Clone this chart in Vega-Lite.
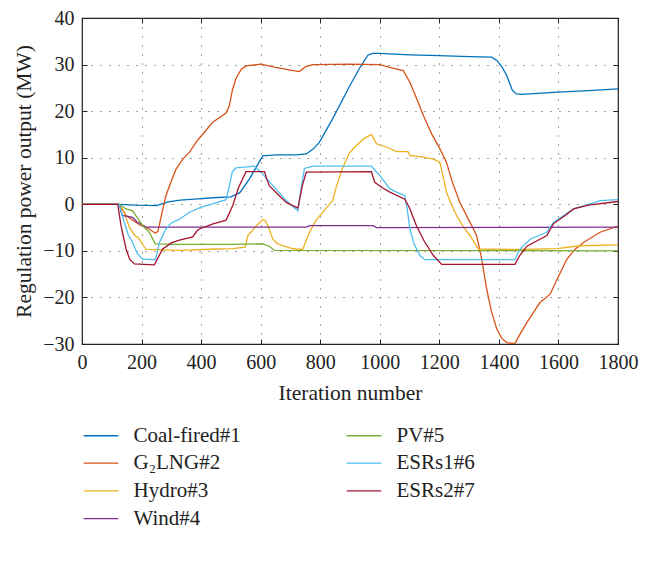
{
  "$schema": "https://vega.github.io/schema/vega-lite/v6.json",
  "width": 536,
  "height": 326,
  "autosize": "none",
  "padding": {"left": 82, "top": 18, "right": 31, "bottom": 240},
  "background": "white",
  "config": {
    "view": {"stroke": "#222", "strokeWidth": 1.2},
    "font": "Liberation Serif",
    "axis": {
      "labelFont": "Liberation Serif",
      "titleFont": "Liberation Serif",
      "labelFontSize": 20,
      "titleFontSize": 21.5,
      "titleFontWeight": "normal",
      "labelColor": "#222",
      "titleColor": "#222",
      "labelOverlap": false,
      "labelFlush": false,
      "domain": false,
      "tickColor": "#222",
      "tickSize": -5,
      "grid": true,
      "gridColor": "#333",
      "gridDash": [1, 8],
      "gridWidth": 1,
      "gridOpacity": 0.9
    },
    "legend": {
      "labelFont": "Liberation Serif",
      "labelFontSize": 21,
      "labelColor": "#222"
    }
  },
  "data": {"values": [
    {"s":"Coal-fired#1","x":0,"y":0},{"s":"Coal-fired#1","x":125,"y":0},{"s":"Coal-fired#1","x":180,"y":-0.2},{"s":"Coal-fired#1","x":250,"y":-0.3},{"s":"Coal-fired#1","x":290,"y":0.5},{"s":"Coal-fired#1","x":330,"y":0.9},{"s":"Coal-fired#1","x":400,"y":1.2},{"s":"Coal-fired#1","x":440,"y":1.4},{"s":"Coal-fired#1","x":500,"y":1.6},{"s":"Coal-fired#1","x":530,"y":2.5},{"s":"Coal-fired#1","x":562,"y":5.4},{"s":"Coal-fired#1","x":590,"y":8.5},{"s":"Coal-fired#1","x":607,"y":10.4},{"s":"Coal-fired#1","x":650,"y":10.6},{"s":"Coal-fired#1","x":720,"y":10.6},{"s":"Coal-fired#1","x":753,"y":10.8},{"s":"Coal-fired#1","x":775,"y":11.8},{"s":"Coal-fired#1","x":797,"y":13.3},{"s":"Coal-fired#1","x":842,"y":18.4},{"s":"Coal-fired#1","x":898,"y":25.3},{"s":"Coal-fired#1","x":930,"y":29},{"s":"Coal-fired#1","x":960,"y":32},{"s":"Coal-fired#1","x":975,"y":32.4},{"s":"Coal-fired#1","x":1000,"y":32.4},{"s":"Coal-fired#1","x":1100,"y":32.1},{"s":"Coal-fired#1","x":1200,"y":31.9},{"s":"Coal-fired#1","x":1300,"y":31.7},{"s":"Coal-fired#1","x":1376,"y":31.6},{"s":"Coal-fired#1","x":1393,"y":30.9},{"s":"Coal-fired#1","x":1410,"y":29.5},{"s":"Coal-fired#1","x":1426,"y":27.7},{"s":"Coal-fired#1","x":1445,"y":24.5},{"s":"Coal-fired#1","x":1458,"y":23.7},{"s":"Coal-fired#1","x":1475,"y":23.6},{"s":"Coal-fired#1","x":1600,"y":24.1},{"s":"Coal-fired#1","x":1700,"y":24.4},{"s":"Coal-fired#1","x":1800,"y":24.8},

    {"s":"G₂LNG#2","x":0,"y":0},{"s":"G₂LNG#2","x":125,"y":0},{"s":"G₂LNG#2","x":148,"y":-2.4},{"s":"G₂LNG#2","x":193,"y":-4.4},{"s":"G₂LNG#2","x":226,"y":-5.3},{"s":"G₂LNG#2","x":246,"y":-6.2},{"s":"G₂LNG#2","x":255,"y":-5.8},{"s":"G₂LNG#2","x":268,"y":-2},{"s":"G₂LNG#2","x":282,"y":1.9},{"s":"G₂LNG#2","x":300,"y":5},{"s":"G₂LNG#2","x":316,"y":7.6},{"s":"G₂LNG#2","x":340,"y":9.8},{"s":"G₂LNG#2","x":361,"y":11.2},{"s":"G₂LNG#2","x":385,"y":13.5},{"s":"G₂LNG#2","x":406,"y":15.1},{"s":"G₂LNG#2","x":439,"y":17.6},{"s":"G₂LNG#2","x":484,"y":19.6},{"s":"G₂LNG#2","x":495,"y":21.2},{"s":"G₂LNG#2","x":505,"y":24.5},{"s":"G₂LNG#2","x":517,"y":27},{"s":"G₂LNG#2","x":535,"y":29},{"s":"G₂LNG#2","x":551,"y":29.7},{"s":"G₂LNG#2","x":601,"y":30.1},{"s":"G₂LNG#2","x":650,"y":29.4},{"s":"G₂LNG#2","x":700,"y":28.8},{"s":"G₂LNG#2","x":730,"y":28.5},{"s":"G₂LNG#2","x":750,"y":29.5},{"s":"G₂LNG#2","x":775,"y":30},{"s":"G₂LNG#2","x":898,"y":30.1},{"s":"G₂LNG#2","x":1000,"y":30},{"s":"G₂LNG#2","x":1040,"y":29.3},{"s":"G₂LNG#2","x":1079,"y":28.7},{"s":"G₂LNG#2","x":1101,"y":26.2},{"s":"G₂LNG#2","x":1125,"y":22.5},{"s":"G₂LNG#2","x":1146,"y":19.1},{"s":"G₂LNG#2","x":1175,"y":15},{"s":"G₂LNG#2","x":1202,"y":11.9},{"s":"G₂LNG#2","x":1224,"y":9},{"s":"G₂LNG#2","x":1245,"y":4.5},{"s":"G₂LNG#2","x":1269,"y":0.4},{"s":"G₂LNG#2","x":1300,"y":-3.5},{"s":"G₂LNG#2","x":1325,"y":-6.7},{"s":"G₂LNG#2","x":1340,"y":-11},{"s":"G₂LNG#2","x":1359,"y":-18.2},{"s":"G₂LNG#2","x":1375,"y":-23},{"s":"G₂LNG#2","x":1393,"y":-26.8},{"s":"G₂LNG#2","x":1410,"y":-28.8},{"s":"G₂LNG#2","x":1426,"y":-29.7},{"s":"G₂LNG#2","x":1454,"y":-29.9},{"s":"G₂LNG#2","x":1470,"y":-28},{"s":"G₂LNG#2","x":1494,"y":-25.4},{"s":"G₂LNG#2","x":1515,"y":-23.3},{"s":"G₂LNG#2","x":1538,"y":-21.1},{"s":"G₂LNG#2","x":1572,"y":-19.3},{"s":"G₂LNG#2","x":1600,"y":-15.5},{"s":"G₂LNG#2","x":1628,"y":-11.8},{"s":"G₂LNG#2","x":1655,"y":-9.7},{"s":"G₂LNG#2","x":1684,"y":-8.2},{"s":"G₂LNG#2","x":1740,"y":-6},{"s":"G₂LNG#2","x":1800,"y":-4.7},

    {"s":"Hydro#3","x":0,"y":0},{"s":"Hydro#3","x":125,"y":0},{"s":"Hydro#3","x":140,"y":-1.5},{"s":"Hydro#3","x":159,"y":-4.9},{"s":"Hydro#3","x":175,"y":-6.5},{"s":"Hydro#3","x":193,"y":-7.5},{"s":"Hydro#3","x":205,"y":-8.8},{"s":"Hydro#3","x":215,"y":-9.7},{"s":"Hydro#3","x":327,"y":-9.9},{"s":"Hydro#3","x":450,"y":-9.6},{"s":"Hydro#3","x":506,"y":-9.5},{"s":"Hydro#3","x":548,"y":-9.2},{"s":"Hydro#3","x":557,"y":-6.7},{"s":"Hydro#3","x":570,"y":-5.8},{"s":"Hydro#3","x":585,"y":-4.6},{"s":"Hydro#3","x":607,"y":-3.3},{"s":"Hydro#3","x":615,"y":-3.5},{"s":"Hydro#3","x":624,"y":-4.6},{"s":"Hydro#3","x":641,"y":-7.5},{"s":"Hydro#3","x":655,"y":-8.4},{"s":"Hydro#3","x":674,"y":-8.9},{"s":"Hydro#3","x":700,"y":-9.4},{"s":"Hydro#3","x":719,"y":-9.6},{"s":"Hydro#3","x":741,"y":-9.7},{"s":"Hydro#3","x":764,"y":-6},{"s":"Hydro#3","x":785,"y":-3.5},{"s":"Hydro#3","x":809,"y":-1.7},{"s":"Hydro#3","x":842,"y":0.8},{"s":"Hydro#3","x":855,"y":4},{"s":"Hydro#3","x":875,"y":7.8},{"s":"Hydro#3","x":898,"y":11},{"s":"Hydro#3","x":915,"y":12.2},{"s":"Hydro#3","x":944,"y":14},{"s":"Hydro#3","x":972,"y":15},{"s":"Hydro#3","x":989,"y":13},{"s":"Hydro#3","x":1022,"y":12.3},{"s":"Hydro#3","x":1056,"y":11.3},{"s":"Hydro#3","x":1095,"y":11.3},{"s":"Hydro#3","x":1101,"y":10.5},{"s":"Hydro#3","x":1140,"y":10.2},{"s":"Hydro#3","x":1180,"y":9.7},{"s":"Hydro#3","x":1202,"y":9},{"s":"Hydro#3","x":1214,"y":5.5},{"s":"Hydro#3","x":1224,"y":2.6},{"s":"Hydro#3","x":1240,"y":0},{"s":"Hydro#3","x":1258,"y":-2.4},{"s":"Hydro#3","x":1280,"y":-4.8},{"s":"Hydro#3","x":1303,"y":-6.7},{"s":"Hydro#3","x":1331,"y":-9.6},{"s":"Hydro#3","x":1482,"y":-9.7},{"s":"Hydro#3","x":1594,"y":-9.5},{"s":"Hydro#3","x":1673,"y":-8.9},{"s":"Hydro#3","x":1800,"y":-8.7},

    {"s":"Wind#4","x":0,"y":0},{"s":"Wind#4","x":125,"y":0},{"s":"Wind#4","x":135,"y":-2.4},{"s":"Wind#4","x":170,"y":-2.8},{"s":"Wind#4","x":185,"y":-3.8},{"s":"Wind#4","x":215,"y":-4.9},{"s":"Wind#4","x":753,"y":-4.9},{"s":"Wind#4","x":764,"y":-4.6},{"s":"Wind#4","x":978,"y":-4.6},{"s":"Wind#4","x":989,"y":-5},{"s":"Wind#4","x":1800,"y":-4.9},

    {"s":"PV#5","x":0,"y":0},{"s":"PV#5","x":125,"y":0},{"s":"PV#5","x":148,"y":-1},{"s":"PV#5","x":170,"y":-1.4},{"s":"PV#5","x":185,"y":-2.8},{"s":"PV#5","x":204,"y":-4.6},{"s":"PV#5","x":226,"y":-6},{"s":"PV#5","x":246,"y":-8.5},{"s":"PV#5","x":327,"y":-8.6},{"s":"PV#5","x":500,"y":-8.6},{"s":"PV#5","x":607,"y":-8.5},{"s":"PV#5","x":629,"y":-9},{"s":"PV#5","x":646,"y":-9.9},{"s":"PV#5","x":1800,"y":-10},

    {"s":"ESRs1#6","x":0,"y":0},{"s":"ESRs1#6","x":125,"y":0},{"s":"ESRs1#6","x":142,"y":-3.9},{"s":"ESRs1#6","x":155,"y":-6.5},{"s":"ESRs1#6","x":170,"y":-8.2},{"s":"ESRs1#6","x":185,"y":-10.5},{"s":"ESRs1#6","x":204,"y":-11.8},{"s":"ESRs1#6","x":246,"y":-11.9},{"s":"ESRs1#6","x":252,"y":-10.5},{"s":"ESRs1#6","x":260,"y":-8.2},{"s":"ESRs1#6","x":282,"y":-5.3},{"s":"ESRs1#6","x":300,"y":-4},{"s":"ESRs1#6","x":327,"y":-3.2},{"s":"ESRs1#6","x":361,"y":-1.7},{"s":"ESRs1#6","x":400,"y":-0.6},{"s":"ESRs1#6","x":439,"y":0.1},{"s":"ESRs1#6","x":484,"y":1},{"s":"ESRs1#6","x":495,"y":4},{"s":"ESRs1#6","x":505,"y":7},{"s":"ESRs1#6","x":517,"y":7.8},{"s":"ESRs1#6","x":579,"y":8.2},{"s":"ESRs1#6","x":590,"y":7.5},{"s":"ESRs1#6","x":601,"y":6.9},{"s":"ESRs1#6","x":620,"y":5.5},{"s":"ESRs1#6","x":641,"y":4},{"s":"ESRs1#6","x":665,"y":2.3},{"s":"ESRs1#6","x":686,"y":0.8},{"s":"ESRs1#6","x":705,"y":-0.3},{"s":"ESRs1#6","x":725,"y":-1.4},{"s":"ESRs1#6","x":735,"y":3},{"s":"ESRs1#6","x":747,"y":7.7},{"s":"ESRs1#6","x":775,"y":8.2},{"s":"ESRs1#6","x":972,"y":8.2},{"s":"ESRs1#6","x":985,"y":7.2},{"s":"ESRs1#6","x":1000,"y":6.2},{"s":"ESRs1#6","x":1034,"y":3.3},{"s":"ESRs1#6","x":1060,"y":2.5},{"s":"ESRs1#6","x":1084,"y":1.9},{"s":"ESRs1#6","x":1092,"y":-1},{"s":"ESRs1#6","x":1101,"y":-5.3},{"s":"ESRs1#6","x":1115,"y":-8.5},{"s":"ESRs1#6","x":1135,"y":-11},{"s":"ESRs1#6","x":1151,"y":-11.9},{"s":"ESRs1#6","x":1454,"y":-11.9},{"s":"ESRs1#6","x":1466,"y":-10.2},{"s":"ESRs1#6","x":1477,"y":-9.2},{"s":"ESRs1#6","x":1505,"y":-7.5},{"s":"ESRs1#6","x":1561,"y":-6},{"s":"ESRs1#6","x":1583,"y":-3.9},{"s":"ESRs1#6","x":1620,"y":-2.3},{"s":"ESRs1#6","x":1651,"y":-1},{"s":"ESRs1#6","x":1700,"y":0},{"s":"ESRs1#6","x":1740,"y":0.8},{"s":"ESRs1#6","x":1800,"y":1},

    {"s":"ESRs2#7","x":0,"y":0},{"s":"ESRs2#7","x":120,"y":0},{"s":"ESRs2#7","x":131,"y":-4.6},{"s":"ESRs2#7","x":148,"y":-9.6},{"s":"ESRs2#7","x":160,"y":-11.8},{"s":"ESRs2#7","x":176,"y":-12.8},{"s":"ESRs2#7","x":243,"y":-13},{"s":"ESRs2#7","x":255,"y":-11.5},{"s":"ESRs2#7","x":271,"y":-9.6},{"s":"ESRs2#7","x":300,"y":-8.3},{"s":"ESRs2#7","x":327,"y":-7.7},{"s":"ESRs2#7","x":372,"y":-7},{"s":"ESRs2#7","x":385,"y":-5.8},{"s":"ESRs2#7","x":394,"y":-5.3},{"s":"ESRs2#7","x":440,"y":-4.2},{"s":"ESRs2#7","x":484,"y":-3.4},{"s":"ESRs2#7","x":506,"y":-0.3},{"s":"ESRs2#7","x":525,"y":3.5},{"s":"ESRs2#7","x":551,"y":7},{"s":"ESRs2#7","x":613,"y":7},{"s":"ESRs2#7","x":620,"y":5.5},{"s":"ESRs2#7","x":629,"y":4},{"s":"ESRs2#7","x":660,"y":2},{"s":"ESRs2#7","x":686,"y":0.4},{"s":"ESRs2#7","x":725,"y":-0.8},{"s":"ESRs2#7","x":740,"y":4},{"s":"ESRs2#7","x":753,"y":6.9},{"s":"ESRs2#7","x":972,"y":7},{"s":"ESRs2#7","x":983,"y":4.7},{"s":"ESRs2#7","x":1010,"y":3.5},{"s":"ESRs2#7","x":1034,"y":2.6},{"s":"ESRs2#7","x":1084,"y":1.1},{"s":"ESRs2#7","x":1100,"y":-0.8},{"s":"ESRs2#7","x":1123,"y":-4.6},{"s":"ESRs2#7","x":1150,"y":-8},{"s":"ESRs2#7","x":1180,"y":-11},{"s":"ESRs2#7","x":1208,"y":-12.9},{"s":"ESRs2#7","x":1454,"y":-12.9},{"s":"ESRs2#7","x":1470,"y":-11},{"s":"ESRs2#7","x":1494,"y":-9},{"s":"ESRs2#7","x":1561,"y":-6.7},{"s":"ESRs2#7","x":1583,"y":-4.2},{"s":"ESRs2#7","x":1620,"y":-2.5},{"s":"ESRs2#7","x":1651,"y":-1},{"s":"ESRs2#7","x":1700,"y":-0.2},{"s":"ESRs2#7","x":1800,"y":0.6}
  ]},
  "layer": [
    {
      "mark": {"type": "line", "strokeWidth": 1.3, "clip": true},
      "encoding": {
        "x": {"field": "x", "type": "quantitative",
              "scale": {"domain": [0, 1800], "nice": false},
              "axis": {"values": [0,200,400,600,800,1000,1200,1400,1600,1800], "format": "d", "title": "Iteration number", "labelPadding": 13, "titlePadding": 10}},
        "y": {"field": "y", "type": "quantitative",
              "scale": {"domain": [-30, 40], "nice": false},
              "axis": {"values": [-30,-20,-10,0,10,20,30,40], "title": "Regulation power output (MW)", "labelPadding": 13, "titlePadding": 7}},
        "color": {"field": "s", "type": "nominal",
                  "scale": {"domain": ["Coal-fired#1","G₂LNG#2","Hydro#3","Wind#4","PV#5","ESRs1#6","ESRs2#7"],
                            "range": ["#0072BD","#D95319","#EDB120","#7E2F8E","#77AC30","#4DBEEE","#A2142F"]},
                  "legend": {"orient": "none", "legendX": 7.5, "legendY": 406, "columns": 2, "title": null,
                             "symbolType": "M-1.65,0H1.65", "symbolSize": 441, "symbolStrokeWidth": 1.3,
                             "labelOffset": 21, "rowPadding": 5.7, "columnPadding": 102, "padding": 0}}
      }
    },
    {
      "mark": {"type": "point", "opacity": 0},
      "encoding": {
        "x": {"field": "x", "type": "quantitative",
              "axis": {"orient": "top", "values": [0,200,400,600,800,1000,1200,1400,1600,1800], "labels": false, "title": null, "grid": false}},
        "y": {"field": "y", "type": "quantitative",
              "axis": {"orient": "right", "values": [-30,-20,-10,0,10,20,30,40], "labels": false, "title": null, "grid": false}}
      }
    }
  ],
  "resolve": {"axis": {"x": "independent", "y": "independent"}}
}
